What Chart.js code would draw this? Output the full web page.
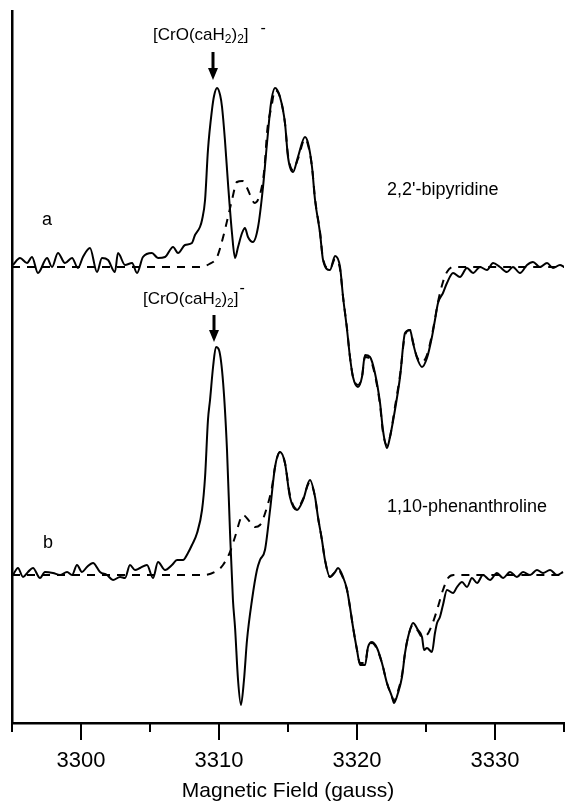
<!DOCTYPE html>
<html>
<head>
<meta charset="utf-8">
<script src="https://cdn.jsdelivr.net/npm/chart.js@4.4.0/dist/chart.umd.min.js"></script>
<style>
  html, body { margin: 0; padding: 0; background: #fff; }
  canvas { display: block; }
</style>
</head>
<body>
<canvas id="epr" width="565" height="804"></canvas>
<script>
// EPR spectra, field in gauss, intensity in arbitrary units relative to each baseline

// a: 2,2'-bipyridine, experimental
const fieldA = [
  3295.07, 3295.58, 3296.09, 3296.45, 3296.88, 3297.54, 3297.90, 3298.33, 3298.84, 3299.35,
  3299.78, 3300.14, 3300.65, 3301.16, 3301.52, 3301.96, 3302.46, 3302.68, 3303.19, 3303.70,
  3304.06, 3304.49, 3305.14, 3305.58, 3306.09, 3306.67, 3307.03, 3307.54, 3308.04, 3308.26,
  3308.62, 3308.77, 3308.99, 3309.20, 3309.49, 3309.64, 3309.86, 3310.08, 3310.22, 3310.43,
  3310.65, 3310.94, 3311.16, 3311.38, 3311.67, 3311.88, 3312.10, 3312.46, 3312.83, 3313.19,
  3313.48, 3313.77, 3314.06, 3314.42, 3314.78, 3315.00, 3315.36, 3315.72, 3316.23, 3316.45,
  3316.74, 3316.96, 3317.32, 3317.54, 3318.04, 3318.41, 3318.77, 3318.99, 3319.28, 3319.49,
  3319.71, 3320.07, 3320.36, 3320.58, 3320.94, 3321.30, 3321.67, 3321.88, 3322.17, 3322.39,
  3322.75, 3323.12, 3323.48, 3323.84, 3324.06, 3324.35, 3324.71, 3325.07, 3325.43, 3325.65,
  3325.87, 3326.23, 3326.52, 3326.96, 3327.46, 3327.97, 3328.41, 3328.91, 3329.42, 3329.86,
  3330.36, 3330.87, 3331.30, 3331.81, 3332.32, 3332.75, 3333.26, 3333.77, 3334.20, 3334.71,
  3335.00
];
const specA = [
  2, 9, 4, 10, -6, 9, 0, 14, 4, 9,
  -1, 10, 19, -5, 9, 7, -5, 14, 2, 4,
  -6, 10, 14, 9, 10, 20, 14, 22, 24, 32,
  40, 47, 67, 117, 157, 171, 179, 172, 160, 127,
  84, 34, 9, 20, 34, 39, 30, 25, 40, 80,
  124, 164, 179, 170, 144, 110, 95, 110, 130, 124,
  100, 67, 34, 7, -3, 11, 0, -30, -63, -90,
  -110, -120, -110, -88, -90, -106, -136, -163, -181, -170,
  -143, -110, -66, -63, -76, -91, -100, -91, -70, -53,
  -36, -26, -16, -6, -10, -1, -6, 0, -3, 4,
  0, -5, 0, -6, 2, 5, 0, 4, -1, 2,
  0
];

// a: simulation
const simFieldA = [
  3295.0, 3308.5, 3309.3, 3309.86, 3310.3, 3310.65, 3310.94, 3311.3, 3311.7, 3312.0,
  3312.6, 3313.1, 3313.3, 3313.5, 3313.8, 3314.06, 3314.42, 3314.78, 3315.0, 3315.36,
  3315.72, 3316.23, 3316.45, 3316.74, 3316.96, 3317.32, 3317.54, 3318.04, 3318.41, 3318.77,
  3318.99, 3319.28, 3319.49, 3319.71, 3320.07, 3320.36, 3320.58, 3320.94, 3321.30, 3321.67,
  3321.88, 3322.17, 3322.39, 3322.75, 3323.12, 3323.48, 3323.84, 3324.06, 3324.35, 3324.71,
  3325.07, 3325.43, 3325.65, 3325.87, 3326.23, 3326.52, 3326.96, 3335.0
];
const simA = [
  0, 0, 3, 10, 30, 50, 67, 85, 86, 80,
  64, 80, 100, 137, 160, 177, 170, 144, 112, 97,
  108, 128, 122, 100, 68, 35, 8, -2, 8, -2,
  -30, -62, -90, -110, -118, -110, -90, -92, -108, -138,
  -165, -178, -170, -140, -108, -68, -63, -75, -90, -95,
  -88, -68, -52, -35, -15, -5, 0, 0
];

// b: 1,10-phenanthroline, experimental
const fieldB = [
  3295.07, 3295.43, 3295.80, 3296.16, 3296.52, 3297.03, 3297.39, 3297.97, 3298.48, 3298.99,
  3299.35, 3299.71, 3300.07, 3300.43, 3300.87, 3301.38, 3301.88, 3302.32, 3302.83, 3303.19,
  3303.55, 3303.91, 3304.28, 3304.78, 3305.22, 3305.58, 3306.09, 3306.59, 3306.96, 3307.39,
  3307.75, 3308.04, 3308.41, 3308.77, 3308.99, 3309.20, 3309.35, 3309.57, 3309.78, 3310.00,
  3310.30, 3310.58, 3310.80, 3311.01, 3311.16, 3311.38, 3311.59, 3311.81, 3312.03, 3312.39,
  3312.75, 3312.97, 3313.33, 3313.70, 3314.06, 3314.42, 3314.78, 3315.14, 3315.65, 3316.09,
  3316.59, 3316.96, 3317.17, 3317.46, 3317.68, 3318.04, 3318.41, 3318.62, 3318.99, 3319.28,
  3319.49, 3319.71, 3320.00, 3320.22, 3320.58, 3320.80, 3321.09, 3321.45, 3321.81, 3322.17,
  3322.54, 3322.68, 3322.97, 3323.26, 3323.48, 3323.70, 3324.06, 3324.42, 3324.71, 3324.86,
  3325.07, 3325.43, 3325.65, 3325.80, 3326.01, 3326.23, 3326.52, 3326.96, 3327.25, 3327.61,
  3327.97, 3328.33, 3328.70, 3329.13, 3329.64, 3330.14, 3330.58, 3331.09, 3331.59, 3332.03,
  3332.54, 3333.04, 3333.48, 3333.99, 3334.49, 3334.93
];
const specB = [
  0, 7, -2, 3, 7, -3, 3, 2, 0, 3,
  0, 10, 3, 8, 12, 3, 0, -5, -2, -3,
  10, 5, 7, 10, -3, 13, 5, 10, 15, 15,
  22, 30, 42, 65, 98, 155, 175, 208, 228, 225,
  192, 125, 42, -25, -52, -105, -130, -105, -65, -25,
  5, 15, 25, 65, 108, 123, 112, 78, 65, 75,
  95, 78, 58, 35, 15, -2, 3, 7, -2, -15,
  -32, -52, -75, -90, -90, -72, -67, -73, -88, -108,
  -122, -128, -118, -102, -78, -62, -48, -55, -62, -75,
  -73, -77, -58, -48, -42, -30, -15, -18, -12, -7,
  -12, -3, -8, 0, -5, 2, -3, 3, -2, 3,
  0, 5, 2, 5, 0, 3
];

// b: simulation
const simFieldB = [
  3295.0, 3308.9, 3309.93, 3310.29, 3310.80, 3311.16, 3311.74, 3312.25, 3312.61, 3312.97,
  3313.48, 3313.84, 3314.06, 3314.42, 3314.78, 3315.14, 3315.65, 3316.09, 3316.59, 3316.96,
  3317.17, 3317.46, 3317.68, 3318.04, 3318.41, 3318.62, 3318.99, 3319.28, 3319.49, 3319.71,
  3320.00, 3320.22, 3320.58, 3320.80, 3321.09, 3321.45, 3321.81, 3322.17, 3322.54, 3322.68,
  3322.97, 3323.26, 3323.48, 3323.70, 3324.06, 3324.42, 3324.71, 3325.07, 3325.43, 3325.80,
  3326.23, 3326.60, 3327.00, 3335.0
];
const simB = [
  0, 0, 5, 10, 23, 38, 60, 53, 48, 50,
  68, 88, 108, 123, 112, 80, 66, 76, 93, 78,
  58, 35, 15, -2, 3, 5, -3, -15, -32, -52,
  -75, -88, -88, -72, -68, -74, -88, -108, -122, -126,
  -116, -100, -78, -62, -50, -56, -62, -60, -50, -35,
  -15, -3, 0, 0
];

const xTicks = [3300, 3310, 3320, 3330];

// vertical stacking of the two spectra
const offsetA = 456;
const offsetB = 148;

const FONT = '"Liberation Sans", Arial, Helvetica, sans-serif';

function toPoints(xs, ys, offset) {
  return xs.map((x, i) => ({ x, y: ys[i] + offset }));
}

function trace(xs, ys, offset, dashed) {
  return {
    data: toPoints(xs, ys, offset),
    borderColor: '#000',
    borderWidth: 2,
    borderDash: dashed ? [8, 7] : [],
    pointRadius: 0,
    fill: false,
    cubicInterpolationMode: 'monotone'
  };
}

// major/minor tick marks on the field axis
const tickMarks = {
  id: 'tickMarks',
  afterDraw(chart) {
    const x = chart.scales.x;
    const ctx = chart.ctx;
    ctx.save();
    ctx.strokeStyle = '#000';
    ctx.lineWidth = 2;
    x.ticks.forEach(t => {
      const px = Math.round(x.getPixelForValue(t.value));
      const len = xTicks.includes(t.value) ? 17 : 9;
      ctx.beginPath();
      ctx.moveTo(px, x.top);
      ctx.lineTo(px, x.top + len);
      ctx.stroke();
    });
    ctx.restore();
  }
};

function drawFormula(ctx, px, py, chargeGap, chargeRise) {
  const parts = [['[CrO(caH', 17, 0], ['2', 12, 3], [')', 17, 0], ['2', 12, 3], [']', 17, 0]];
  let cx = px;
  parts.forEach(([t, size, dy]) => {
    ctx.font = `${size}px ${FONT}`;
    ctx.fillText(t, cx, py + dy);
    cx += ctx.measureText(t).width;
  });
  ctx.font = `16px ${FONT}`;
  ctx.fillText('-', cx + chargeGap, py - chargeRise);
}

function drawArrow(ctx, px, tipY, len) {
  ctx.lineWidth = 3;
  ctx.beginPath();
  ctx.moveTo(px, tipY - len);
  ctx.lineTo(px, tipY - 10);
  ctx.stroke();
  ctx.beginPath();
  ctx.moveTo(px - 5, tipY - 12);
  ctx.lineTo(px + 5, tipY - 12);
  ctx.lineTo(px, tipY);
  ctx.closePath();
  ctx.fill();
}

// labels, formulas and arrows placed in data coordinates
const notes = {
  id: 'notes',
  afterDatasetsDraw(chart) {
    const { ctx, scales: { x, y } } = chart;
    const X = v => x.getPixelForValue(v);
    const Y = v => y.getPixelForValue(v);
    ctx.save();
    ctx.fillStyle = '#000';
    ctx.strokeStyle = '#000';
    ctx.textBaseline = 'alphabetic';
    ctx.textAlign = 'left';

    ctx.font = `18px ${FONT}`;
    ctx.fillText('a', X(3297.17), Y(offsetA + 42));
    ctx.fillText('b', X(3297.25), Y(offsetB + 27));
    ctx.fillText("2,2'-bipyridine", X(3322.17), Y(offsetA + 72));
    ctx.fillText('1,10-phenanthroline', X(3322.17), Y(offsetB + 63));

    drawFormula(ctx, X(3305.22), Y(offsetA + 227), 12, 7);
    drawFormula(ctx, X(3304.49), Y(offsetB + 271), 1, 11);

    drawArrow(ctx, Math.round(X(3309.57)), Y(offsetA + 187), 28);
    drawArrow(ctx, Math.round(X(3309.64)), Y(offsetB + 233), 27);
    ctx.restore();
  }
};

new Chart(document.getElementById('epr').getContext('2d'), {
  type: 'line',
  data: {
    datasets: [
      trace(fieldA, specA, offsetA, false),
      trace(fieldB, specB, offsetB, false),
      trace(simFieldA, simA, offsetA, true),
      trace(simFieldB, simB, offsetB, true)
    ]
  },
  options: {
    responsive: false,
    animation: false,
    layout: { padding: { top: 11, right: 1, bottom: 0, left: 0 } },
    plugins: { legend: { display: false }, tooltip: { enabled: false } },
    scales: {
      x: {
        type: 'linear',
        min: 3295,
        max: 3335,
        ticks: {
          stepSize: 5,
          autoSkip: false,
          maxRotation: 0,
          padding: 0,
          color: '#000',
          font: { family: FONT, size: 22 },
          callback: v => xTicks.includes(v) ? String(v) : ''
        },
        // tick marks themselves are drawn by the tickMarks plugin; this only spaces the labels
        grid: { display: true, drawOnChartArea: false, drawTicks: true, tickLength: 25, tickColor: 'rgba(0,0,0,0)' },
        border: { display: true, color: '#000', width: 2.5 },
        title: {
          display: true,
          text: 'Magnetic Field (gauss)',
          color: '#000',
          font: { family: FONT, size: 21, lineHeight: 1.2 },
          padding: { top: 0, bottom: 0 }
        },
        afterFit: s => { s.height = 81; }
      },
      y: {
        min: 0,
        max: 712,
        ticks: { display: false },
        grid: { display: false, drawTicks: false },
        border: { display: true, color: '#000', width: 2.5 },
        afterFit: s => { s.width = 12; }
      }
    }
  },
  plugins: [tickMarks, notes]
});
</script>
</body>
</html>
